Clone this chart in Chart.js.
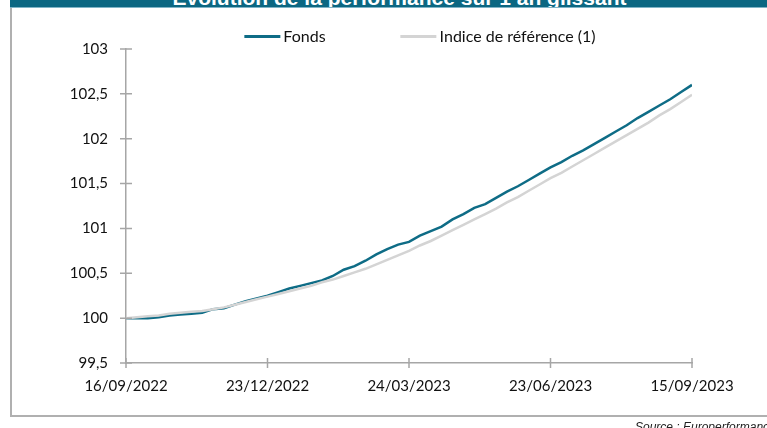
<!DOCTYPE html>
<html lang="fr">
<head>
<meta charset="utf-8">
<title>Evolution de la performance sur 1 an glissant</title>
<script src="https://cdn.jsdelivr.net/npm/chart.js@4.4.1/dist/chart.umd.min.js"></script>
<style>
    html, body { margin: 0; padding: 0; background: #fff; }
    body { position: relative; width: 767px; height: 428px; overflow: hidden; font-family: Lato, sans-serif; }
    .frame { position: absolute; left: 10px; top: 0; width: 900px; height: 417px; border: 2px solid #b0b0b0; box-sizing: border-box; }
    .title-bar { position: absolute; left: 10px; top: 0; width: 779px; height: 7px; background: #0b6782; border-bottom: 1px solid #7fb4c6; overflow: hidden; }
    .title-bar span { position: absolute; left: 0; right: 0; top: -14px; line-height: 24px; text-align: center; font: bold 21px "Liberation Sans", Arial, sans-serif; color: #fff; white-space: nowrap; }
    #chart { position: absolute; left: 0; top: 0; }
    #legend { position: absolute; left: 420px; top: 26px; transform: translateX(-50%); display: flex; white-space: nowrap; font: 16px/19px Lato, sans-serif; color: #111; }
    .legend-item { display: flex; align-items: center; margin-right: 75px; }
    .legend-item:last-child { margin-right: 0; }
    .swatch { display: inline-block; width: 36px; margin-right: 3px; transform: translateY(1px); }
    .source { position: absolute; left: 635px; top: 420px; font: italic 12px/14px "Liberation Sans", Arial, sans-serif; color: #222; white-space: nowrap; }
</style>
</head>
<body>
<div class="frame"></div>
<div class="title-bar"><span>Evolution de la performance sur 1 an glissant</span></div>
<canvas id="chart" width="767" height="428"></canvas>
<div id="legend"></div>
<div class="source">Source : Europerformance</div>

<script>
// Valeurs hebdomadaires, base 100 au 16/09/2022
const tickLabels = ['16/09/2022', '23/12/2022', '24/03/2023', '23/06/2023', '15/09/2023'];
const weeksPerTick = 13;

const fonds = [
    100.00, 100.00, 100.00, 100.01, 100.03, 100.04, 100.05, 100.06, 100.10, 100.11,
    100.15, 100.19, 100.22, 100.25, 100.29, 100.33, 100.36, 100.39, 100.42, 100.47,
    100.54, 100.58, 100.64, 100.71, 100.77, 100.82, 100.85, 100.92, 100.97, 101.02,
    101.10, 101.16, 101.23, 101.27, 101.34, 101.41, 101.47, 101.54, 101.61, 101.68,
    101.74, 101.81, 101.87, 101.94, 102.01, 102.08, 102.15, 102.23, 102.30, 102.37,
    102.44, 102.52, 102.60
];

const indice = [
    100.00, 100.01, 100.02, 100.03, 100.05, 100.06, 100.07, 100.08, 100.10, 100.12,
    100.15, 100.18, 100.21, 100.24, 100.27, 100.30, 100.33, 100.36, 100.40, 100.43,
    100.47, 100.51, 100.55, 100.60, 100.65, 100.70, 100.75, 100.81, 100.86, 100.92,
    100.98, 101.04, 101.10, 101.16, 101.22, 101.29, 101.35, 101.42, 101.49, 101.56,
    101.62, 101.69, 101.76, 101.83, 101.90, 101.97, 102.04, 102.11, 102.18, 102.26,
    102.33, 102.41, 102.49
];

const axisColor = '#a6a6a6';
const toPoints = values => values.map((v, i) => ({ x: i, y: v }));

// petites graduations en croix sur les deux axes
const crossTicks = {
    id: 'crossTicks',
    afterDatasetsDraw(chart) {
        const { ctx, scales: { x, y } } = chart;
        ctx.save();
        ctx.strokeStyle = axisColor;
        ctx.lineWidth = 1.5;
        ctx.beginPath();
        y.ticks.forEach(t => {
            const py = y.getPixelForValue(t.value);
            ctx.moveTo(x.left - 6, py);
            ctx.lineTo(x.left + 6, py);
        });
        x.ticks.forEach(t => {
            const px = x.getPixelForValue(t.value);
            ctx.moveTo(px, y.bottom - 5);
            ctx.lineTo(px, y.bottom + 5);
        });
        ctx.stroke();
        ctx.restore();
    }
};

// légende HTML construite depuis les séries
const htmlLegend = {
    id: 'htmlLegend',
    afterUpdate(chart) {
        const box = document.getElementById('legend');
        box.innerHTML = '';
        chart.data.datasets.forEach(ds => {
            const item = document.createElement('div');
            item.className = 'legend-item';
            const swatch = document.createElement('span');
            swatch.className = 'swatch';
            swatch.style.background = ds.borderColor;
            swatch.style.height = ds.borderWidth + 'px';
            const label = document.createElement('span');
            label.textContent = ds.label;
            item.append(swatch, label);
            box.appendChild(item);
        });
    }
};

Chart.defaults.font.family = 'Lato, sans-serif';
Chart.defaults.font.size = 15;
Chart.defaults.color = '#111';

new Chart(document.getElementById('chart').getContext('2d'), {
    type: 'line',
    data: {
        datasets: [
            {
                label: 'Fonds',
                data: toPoints(fonds),
                borderColor: '#0e6c86',
                borderWidth: 2.5,
                pointRadius: 0,
                tension: 0,
                order: 1
            },
            {
                label: 'Indice de référence (1)',
                data: toPoints(indice),
                borderColor: '#d4d4d4',
                borderWidth: 2.5,
                pointRadius: 0,
                tension: 0,
                order: 0
            }
        ]
    },
    options: {
        responsive: false,
        animation: false,
        layout: { padding: { top: 49, right: 75, bottom: 15, left: 0 } },
        plugins: {
            legend: { display: false },
            tooltip: { enabled: false }
        },
        scales: {
            x: {
                type: 'linear',
                min: 0,
                max: fonds.length - 1,
                grid: { display: false, drawTicks: false },
                border: { color: axisColor, width: 1.5 },
                ticks: {
                    stepSize: weeksPerTick,
                    autoSkip: false,
                    maxRotation: 0,
                    padding: 14,
                    callback: v => tickLabels[v / weeksPerTick]
                },
                afterFit(scale) {
                    scale.height = 50;
                    scale.paddingLeft = 0;
                    scale.paddingRight = 0;
                }
            },
            y: {
                min: 99.5,
                max: 103,
                grid: { display: false, drawTicks: false },
                border: { color: axisColor, width: 1.5 },
                ticks: {
                    stepSize: 0.5,
                    padding: 18,
                    callback: v => String(v).replace('.', ',')
                },
                afterFit(scale) {
                    scale.width = 126;
                    scale.paddingTop = 0;
                    scale.paddingBottom = 0;
                }
            }
        }
    },
    plugins: [crossTicks, htmlLegend]
});
</script>
</body>
</html>
